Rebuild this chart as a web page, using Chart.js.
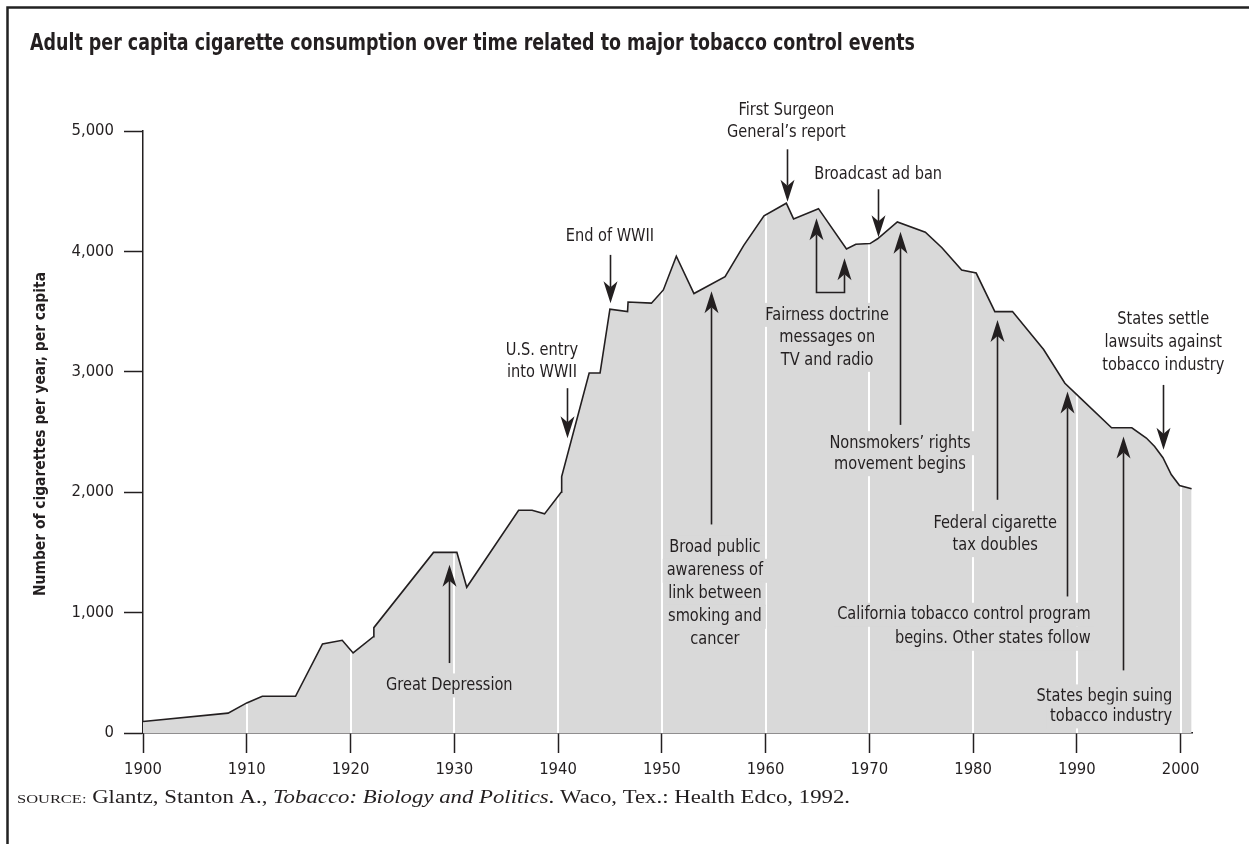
<!DOCTYPE html>
<html><head><meta charset="utf-8">
<script src="https://cdn.jsdelivr.net/npm/chart.js@4"></script>
<style>html,body{margin:0;padding:0;background:#fff;overflow:hidden}#wrap{width:1249px;height:844px;position:relative}</style>
</head><body><div id="wrap"><canvas id="c" width="1249" height="844"></canvas></div>
<script>
// ---- data ----
const years = [1900, 1908.2, 1910, 1911.5, 1914.7, 1917.3, 1919.2, 1920.25, 1922.2, 1922.25, 1928, 1930.25, 1931.2, 1936.2, 1937.5, 1938.7, 1940.3, 1940.35, 1943.0, 1944.05, 1945.0, 1946.7, 1946.75, 1949.0, 1950.15, 1951.4, 1953.1, 1956.1, 1957.9, 1959.85, 1962.0, 1962.7, 1965.1, 1967.8, 1968.7, 1970.07, 1970.8, 1972.7, 1975.4, 1977.0, 1978.9, 1980.3, 1982.1, 1983.8, 1986.8, 1988.85, 1990.3, 1993.35, 1995.3, 1996.7, 1997.5, 1998.3, 1999.1, 1999.9, 2001.06];
const consumption = [95, 165, 250, 305, 305, 740, 770, 665, 800, 875, 1500, 1500, 1210, 1850, 1850, 1820, 2000, 2130, 2990, 2990, 3520, 3500, 3580, 3570, 3680, 3960, 3650, 3790, 4050, 4295, 4400, 4270, 4355, 4020, 4060, 4065, 4105, 4245, 4160, 4030, 3845, 3820, 3500, 3500, 3185, 2905, 2785, 2535, 2535, 2450, 2380, 2286, 2147, 2056, 2028];
const xTickValues = [1900, 1910, 1920, 1930, 1940, 1950, 1960, 1970, 1980, 1990, 2000];
const yTickValues = [0, 1000, 2000, 3000, 4000, 5000];
const titleText = "Adult per capita cigarette consumption over time related to major tobacco control events";
const yAxisTitle = "Number of cigarettes per year, per capita";
const sourceParts = ["SOURCE:", " Glantz, Stanton A., ", "Tobacco: Biology and Politics", ". Waco, Tex.: Health Edco, 1992."];

// events: text anchor in data units (year, value), arrows in data units
const events = [
  {lines:["U.S. entry","into WWII"], at:[1938.45, 3182], lh:22, bg:false, arrow:{x:1940.83, from:2864, to:2449}},
  {lines:["End of WWII"], at:[1945.0, 4122], lh:22, bg:false, arrow:{x:1945.0, from:3971, to:3570}},
  {lines:["First Surgeon","General\u2019s report"], at:[1962.01, 5168], lh:22, bg:false, arrow:{x:1962.03, from:4848, to:4413}},
  {lines:["Broadcast ad ban"], at:[1970.85, 4641], lh:22, bg:false, arrow:{x:1970.80, from:4516, to:4118}},
  {lines:["Fairness doctrine","messages on","TV and radio"], at:[1965.94, 3473], lh:22.5, bg:true, bracket:{x1:1964.85, x2:1967.55, tip1:4275, tip2:3943, base:3661}},
  {lines:["Broad public","awareness of","link between","smoking and","cancer"], at:[1955.12, 1538], lh:23, bg:true, arrow:{x:1954.72, from:1732, to:3669}},
  {lines:["Nonsmokers\u2019 rights","movement begins"], at:[1972.96, 2407], lh:21, bg:true, arrow:{x:1972.96, from:2559, to:4164}},
  {lines:["Federal cigarette","tax doubles"], at:[1982.13, 1743], lh:22, bg:true, arrow:{x:1982.27, from:1937, to:3431}},
  {lines:["California tobacco control program","begins. Other states follow"], at:[1991.33, 982], lh:24, bg:true, align:'right', arrow:{x:1989.02, from:1134, to:2836}},
  {lines:["States begin suing","tobacco industry"], at:[1999.19, 304], lh:20, bg:true, align:'right', arrow:{x:1994.41, from:520, to:2462}},
  {lines:["States settle","lawsuits against","tobacco industry"], at:[1998.33, 3437], lh:23.3, bg:false, arrow:{x:1998.27, from:2891, to:2352}},
  {lines:["Great Depression"], at:[1929.52, 395], lh:22, bg:true, arrow:{x:1929.52, from:581, to:1397}}
];

// ---- style ----
const INK = '#231f20';
const FILL = '#d9d9d9';
const NARROW = '"Liberation Sans Narrow","Arial Narrow","DejaVu Sans Condensed",sans-serif';
const SERIF = '"Liberation Serif","Times New Roman",serif';
const SX = 0.9; // horizontal squeeze for annotation text

function drawHead(ctx, x, y, dir) {
  const L = 22, W = 7, N = 16;
  ctx.beginPath();
  ctx.moveTo(x, y);
  ctx.lineTo(x - W, y - dir * L);
  ctx.lineTo(x, y - dir * N);
  ctx.lineTo(x + W, y - dir * L);
  ctx.closePath();
  ctx.fill();
}

const decor = {
  id: 'decor',
  beforeDatasetsDraw(chart) {
    const {ctx, chartArea, scales} = chart;
    ctx.save();
    ctx.strokeStyle = '#ffffff';
    ctx.lineWidth = 2;
    xTickValues.slice(1).forEach(v => {
      const x = Math.round(scales.x.getPixelForValue(v));
      ctx.beginPath();
      ctx.moveTo(x, chartArea.bottom);
      ctx.lineTo(x, chartArea.top);
      ctx.stroke();
    });
    ctx.restore();
  },
  afterDraw(chart) {
    const {ctx, scales} = chart;
    const X = v => scales.x.getPixelForValue(v);
    const Y = v => scales.y.getPixelForValue(v);
    ctx.save();
    // frame
    ctx.strokeStyle = '#222';
    ctx.lineWidth = 2.5;
    ctx.beginPath();
    ctx.moveTo(7.5, 844);
    ctx.lineTo(7.5, 7.5);
    ctx.lineTo(1249, 7.5);
    ctx.stroke();

    // title
    ctx.fillStyle = INK;
    ctx.textBaseline = 'middle';
    ctx.textAlign = 'left';
    ctx.font = 'bold 23px ' + NARROW;
    let w = ctx.measureText(titleText).width;
    ctx.save();
    ctx.translate(30, 44);
    ctx.scale(885 / w, 1);
    ctx.fillText(titleText, 0, 0);
    ctx.restore();

    // y axis title
    ctx.save();
    ctx.font = 'bold 16px ' + NARROW;
    w = ctx.measureText(yAxisTitle).width;
    ctx.translate(41, 434);
    ctx.rotate(-Math.PI / 2);
    ctx.scale(324 / w, 1);
    ctx.textAlign = 'center';
    ctx.fillText(yAxisTitle, 0, 0);
    ctx.restore();

    // source
    const fonts = ['13px ' + SERIF, '18px ' + SERIF, 'italic 18px ' + SERIF, '18px ' + SERIF];
    let total = 0;
    sourceParts.forEach((t, i) => { ctx.font = fonts[i]; total += ctx.measureText(t).width; });
    ctx.save();
    ctx.translate(17, 797);
    ctx.scale(833 / total, 1);
    let cx = 0;
    ctx.textBaseline = 'alphabetic';
    sourceParts.forEach((t, i) => { ctx.font = fonts[i]; ctx.fillText(t, cx, 6); cx += ctx.measureText(t).width; });
    ctx.restore();

    // events
    ctx.font = '18px ' + NARROW;
    ctx.textBaseline = 'middle';
    events.forEach(ev => {
      const ax = X(ev.at[0]), ay = Y(ev.at[1]);
      const align = ev.align || 'center';
      ctx.textAlign = align;
      ev.lines.forEach((ln, i) => {
        const ly = ay + i * ev.lh;
        const tw = ctx.measureText(ln).width * SX;
        if (ev.bg) {
          const left = align === 'right' ? ax - tw : ax - tw / 2;
          ctx.fillStyle = FILL;
          ctx.fillRect(left - 4, ly - 12, tw + 8, 24);
        }
        ctx.fillStyle = INK;
        ctx.save();
        ctx.translate(ax, ly);
        ctx.scale(SX, 1);
        ctx.fillText(ln, 0, 0);
        ctx.restore();
      });
      ctx.strokeStyle = INK;
      ctx.fillStyle = INK;
      ctx.lineWidth = 1.6;
      if (ev.arrow) {
        const x = Math.round(X(ev.arrow.x)) + 0.5;
        const y1 = Y(ev.arrow.from), y2 = Y(ev.arrow.to);
        const dir = y2 > y1 ? 1 : -1;
        ctx.beginPath();
        ctx.moveTo(x, y1);
        ctx.lineTo(x, y2 - dir * 16);
        ctx.stroke();
        drawHead(ctx, x, y2, dir);
      }
      if (ev.bracket) {
        const b = ev.bracket;
        const x1 = Math.round(X(b.x1)) + 0.5, x2 = Math.round(X(b.x2)) + 0.5;
        const yb = Math.round(Y(b.base)) + 0.5;
        ctx.beginPath();
        ctx.moveTo(x1, Y(b.tip1) + 16);
        ctx.lineTo(x1, yb);
        ctx.lineTo(x2, yb);
        ctx.lineTo(x2, Y(b.tip2) + 16);
        ctx.stroke();
        drawHead(ctx, x1, Y(b.tip1), -1);
        drawHead(ctx, x2, Y(b.tip2), -1);
      }
    });
    ctx.restore();
  }
};

new Chart(document.getElementById('c'), {
  type: 'line',
  data: {
    datasets: [{
      data: years.map((yr, i) => ({x: yr, y: consumption[i]})),
      borderColor: INK,
      borderWidth: 1.6,
      backgroundColor: FILL,
      fill: 'origin',
      pointRadius: 0,
      tension: 0
    }]
  },
  options: {
    responsive: false,
    animation: false,
    events: [],
    layout: {padding: {top: 131, right: 57, bottom: 0, left: 0}},
    plugins: {
      legend: {display: false},
      tooltip: {enabled: false},
      filler: {drawTime: 'beforeDatasetsDraw'}
    },
    scales: {
      x: {
        type: 'linear', min: 1900, max: 2001.1,
        afterBuildTicks: s => { s.ticks = xTickValues.map(v => ({value: v})); },
        afterFit: s => { s.height = 111; s.paddingLeft = 0; s.paddingRight = 0; },
        ticks: {callback: v => String(v), font: {size: 16.5, family: NARROW}, color: INK, padding: 7, maxRotation: 0, autoSkip: false},
        grid: {drawOnChartArea: false, drawTicks: true, tickLength: 20, tickColor: INK, tickWidth: 1.5},
        border: {color: INK, width: 1.5}
      },
      y: {
        min: 0, max: 5000,
        afterBuildTicks: s => { s.ticks = yTickValues.map(v => ({value: v})); },
        afterFit: s => { s.width = 143; s.paddingTop = 0; s.paddingBottom = 0; },
        ticks: {callback: v => v.toLocaleString('en-US'), font: {size: 16.5, family: NARROW}, color: INK, padding: 10},
        grid: {drawOnChartArea: false, drawTicks: true, tickLength: 19, tickColor: INK, tickWidth: 1.5},
        border: {color: INK, width: 1.5}
      }
    }
  },
  plugins: [decor]
});
</script></body></html>
